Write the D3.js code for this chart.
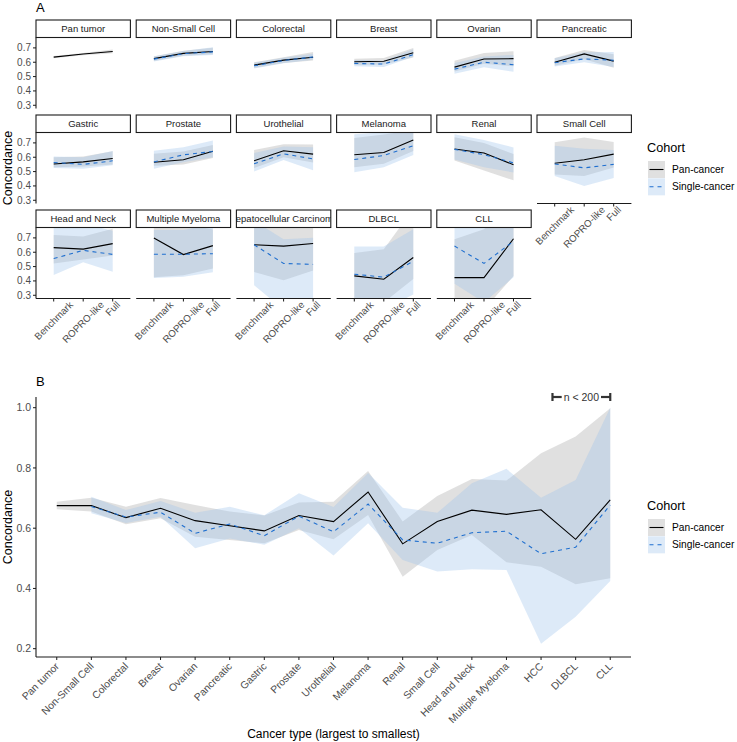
<!DOCTYPE html>
<html>
<head>
<meta charset="utf-8">
<script src="https://cdn.jsdelivr.net/npm/d3@7"></script>
<style>
body { margin: 0; background: #fff; }
svg { display: block; font-family: 'Liberation Sans', Arial, sans-serif; }
</style>
</head>
<body>
<div id="main"></div>
<script>
// cancer types, largest to smallest
var cancer_types = ['Pan tumor', 'Non-Small Cell', 'Colorectal', 'Breast', 'Ovarian', 'Pancreatic',
  'Gastric', 'Prostate', 'Urothelial', 'Melanoma', 'Renal', 'Small Cell',
  'Head and Neck', 'Multiple Myeloma', 'HCC', 'DLBCL', 'CLL']
var facet_titles = ['Pan tumor', 'Non-Small Cell', 'Colorectal', 'Breast', 'Ovarian', 'Pancreatic',
  'Gastric', 'Prostate', 'Urothelial', 'Melanoma', 'Renal', 'Small Cell',
  'Head and Neck', 'Multiple Myeloma', 'Hepatocellular Carcinoma', 'DLBCL', 'CLL']
var models = ['Benchmark', 'ROPRO-like', 'Full']
var cohorts = ['Pan-cancer', 'Single-cancer']

// concordance per cancer type, [Benchmark, ROPRO-like, Full]
var pan_mean = [
  [0.636, 0.657, 0.675], [0.625, 0.662, 0.675], [0.580, 0.615, 0.635], [0.603, 0.607, 0.666],
  [0.566, 0.623, 0.625], [0.600, 0.658, 0.608], [0.553, 0.568, 0.591], [0.565, 0.582, 0.642],
  [0.575, 0.645, 0.622], [0.617, 0.633, 0.720], [0.658, 0.630, 0.548], [0.558, 0.582, 0.622],
  [0.632, 0.622, 0.660], [0.700, 0.584, 0.646], [0.652, 0.643, 0.661], [0.435, 0.412, 0.563],
  [0.423, 0.423, 0.694]]
var pan_lo = [
  [0.628, 0.649, 0.663], [0.608, 0.645, 0.655], [0.560, 0.595, 0.613], [0.580, 0.585, 0.633],
  [0.535, 0.590, 0.572], [0.575, 0.620, 0.561], [0.530, 0.535, 0.550], [0.540, 0.550, 0.594],
  [0.525, 0.600, 0.563], [0.530, 0.554, 0.644], [0.577, 0.508, 0.439], [0.480, 0.470, 0.528],
  [0.522, 0.550, 0.577], [0.425, 0.440, 0.487], [0.462, 0.405, 0.472], [0.250, 0.250, 0.414],
  [0.200, 0.200, 0.434]]
var pan_hi = [
  [0.644, 0.665, 0.688], [0.642, 0.680, 0.701], [0.600, 0.635, 0.671], [0.625, 0.630, 0.700],
  [0.610, 0.665, 0.677], [0.630, 0.685, 0.655], [0.600, 0.605, 0.642], [0.625, 0.640, 0.685],
  [0.650, 0.690, 0.688], [0.735, 0.758, 0.790], [0.740, 0.700, 0.622], [0.704, 0.738, 0.707],
  [0.720, 0.710, 0.763], [0.820, 0.800, 0.758], [0.850, 0.850, 0.849], [0.595, 0.620, 0.904],
  [0.690, 0.760, 0.998]]
var single_mean = [
  [null, null, null], [0.622, 0.660, 0.672], [0.575, 0.612, 0.637], [0.592, 0.587, 0.653],
  [0.552, 0.600, 0.583], [0.597, 0.623, 0.614], [0.563, 0.550, 0.575], [0.567, 0.617, 0.640],
  [0.554, 0.624, 0.588], [0.584, 0.612, 0.680], [0.655, 0.618, 0.561], [0.553, 0.526, 0.550],
  [0.556, 0.613, 0.585], [0.586, 0.586, 0.590], [0.652, 0.522, 0.515], [0.447, 0.426, 0.537],
  [0.643, 0.522, 0.677]]
var single_lo = [
  [null, null, null], [0.605, 0.642, 0.650], [0.557, 0.593, 0.617], [0.572, 0.567, 0.638],
  [0.520, 0.565, 0.533], [0.570, 0.600, 0.566], [0.525, 0.520, 0.545], [0.520, 0.565, 0.600],
  [0.500, 0.580, 0.509], [0.496, 0.530, 0.616], [0.585, 0.530, 0.494], [0.470, 0.400, 0.456],
  [0.442, 0.530, 0.464], [0.420, 0.430, 0.461], [0.370, 0.200, 0.216], [0.250, 0.200, 0.306],
  [0.380, 0.250, 0.425]]
var single_hi = [
  [null, null, null], [0.640, 0.678, 0.704], [0.597, 0.632, 0.660], [0.615, 0.610, 0.690],
  [0.595, 0.640, 0.651], [0.628, 0.670, 0.671], [0.605, 0.600, 0.643], [0.645, 0.670, 0.716],
  [0.630, 0.675, 0.670], [0.760, 0.775, 0.783], [0.760, 0.720, 0.668], [0.680, 0.660, 0.651],
  [0.780, 0.800, 0.749], [0.755, 0.755, 0.797], [0.820, 0.690, 0.701], [0.640, 0.640, 0.760],
  [0.850, 0.850, 1.000]]

var y_ticks_a = [0.3, 0.4, 0.5, 0.6, 0.7]
var y_ticks_b = [0.2, 0.4, 0.6, 0.8, 1.0]
var small_n_label = 'n < 200'
var small_n_span = [14.33, 16] // in category positions

var W = 737
var H = 742
var pan_line = '#000000'
var single_line = '#1f6fcf'
var pan_fill = '#999999'
var single_fill = '#9ec3eb'
var pan_op = 0.3
var single_op = 0.35
var tick_col = '#4d4d4d'
var axis_col = '#1a1a1a'

var svg = d3.select('div#main').append('svg')
  .attr('width', W)
  .attr('height', H)

function seriesRows (i, xs, keys, col) {
  // one row per x position, col picks the model column (or null for all)
  return keys.map(function (k, j) {
    var ii = col === null ? i : j
    var jj = col === null ? j : col
    return {
      x: xs(k),
      pm: pan_mean[ii][jj], pl: pan_lo[ii][jj], ph: pan_hi[ii][jj],
      sm: single_mean[ii][jj], sl: single_lo[ii][jj], sh: single_hi[ii][jj]
    }
  })
}

function drawSeries (g, rows, ys) {
  var area_pan = d3.area().defined(function (d) { return d.pl !== null })
    .x(function (d) { return d.x }).y0(function (d) { return ys(d.pl) }).y1(function (d) { return ys(d.ph) })
  var area_single = d3.area().defined(function (d) { return d.sl !== null })
    .x(function (d) { return d.x }).y0(function (d) { return ys(d.sl) }).y1(function (d) { return ys(d.sh) })
  var line_pan = d3.line().defined(function (d) { return d.pm !== null })
    .x(function (d) { return d.x }).y(function (d) { return ys(d.pm) })
  var line_single = d3.line().defined(function (d) { return d.sm !== null })
    .x(function (d) { return d.x }).y(function (d) { return ys(d.sm) })

  g.append('path').attr('d', area_pan(rows)).attr('fill', pan_fill).attr('fill-opacity', pan_op)
  g.append('path').attr('d', area_single(rows)).attr('fill', single_fill).attr('fill-opacity', single_op)
  g.append('path').attr('d', line_pan(rows)).attr('fill', 'none')
    .attr('stroke', pan_line).attr('stroke-width', 1.1)
  g.append('path').attr('d', line_single(rows)).attr('fill', 'none')
    .attr('stroke', single_line).attr('stroke-width', 1.1).attr('stroke-dasharray', '4,4')
}

function yAxis (g, ys, ticks, top, bottom, fs) {
  g.append('line').attr('x1', 0).attr('x2', 0).attr('y1', top).attr('y2', bottom)
    .attr('stroke', axis_col).attr('stroke-width', 1.1)
  ticks.forEach(function (t) {
    g.append('line').attr('x1', -3).attr('x2', 0).attr('y1', ys(t)).attr('y2', ys(t))
      .attr('stroke', axis_col).attr('stroke-width', 1)
    g.append('text').text(t.toFixed(1))
      .attr('x', -5).attr('y', ys(t)).attr('dy', '0.35em')
      .attr('text-anchor', 'end').style('font-size', fs + 'px').attr('fill', tick_col)
  })
}

// ---------- panel A
var a_left = 36
var a_col_step = 100.2
var a_panel_w = 94.4
var a_strip_tops = [20, 115, 210]
var a_strip_h = 17.5
var a_panel_h = 71

var x_a = d3.scalePoint().domain(models).range([0, a_panel_w]).padding(0.6)
var y_a = d3.scaleLinear().domain([0.2775, 0.7725]).range([a_panel_h, 0])

svg.append('text').text('A').attr('x', 36).attr('y', 12)
  .style('font-size', '13px').attr('fill', '#000')

cancer_types.forEach(function (ct, i) {
  var row = Math.floor(i / 6)
  var col = i % 6
  var px = a_left + col * a_col_step
  var st = a_strip_tops[row]
  var py = st + a_strip_h

  var g = svg.append('g').attr('transform', 'translate(' + px + ',' + py + ')')
  var cid = 'clipA' + i
  g.append('clipPath').attr('id', cid).append('rect')
    .attr('width', a_panel_w).attr('height', a_panel_h)
  var pg = g.append('g').attr('clip-path', 'url(#' + cid + ')')
  drawSeries(pg, seriesRows(i, x_a, models, null), y_a)

  // strip
  var sg = svg.append('g').attr('transform', 'translate(' + px + ',' + st + ')')
  var sid = 'clipS' + i
  sg.append('clipPath').attr('id', sid).append('rect')
    .attr('width', a_panel_w).attr('height', a_strip_h)
  sg.append('rect').attr('width', a_panel_w).attr('height', a_strip_h)
    .attr('fill', '#fff').attr('stroke', axis_col).attr('stroke-width', 1.1)
  sg.append('text').text(facet_titles[i])
    .attr('clip-path', 'url(#' + sid + ')')
    .attr('x', a_panel_w / 2).attr('y', a_strip_h / 2).attr('dy', '0.35em')
    .attr('text-anchor', 'middle').style('font-size', '9.5px').attr('fill', '#1a1a1a')

  if (col === 0) {
    yAxis(g, y_a, y_ticks_a, 0, a_panel_h, 10)
  }
  // x axis where no facet sits below
  if (i + 6 >= cancer_types.length) {
    g.append('line').attr('x1', 0).attr('x2', a_panel_w).attr('y1', a_panel_h).attr('y2', a_panel_h)
      .attr('stroke', axis_col).attr('stroke-width', 1.1)
    models.forEach(function (m) {
      g.append('line').attr('x1', x_a(m)).attr('x2', x_a(m))
        .attr('y1', a_panel_h).attr('y2', a_panel_h + 3)
        .attr('stroke', axis_col).attr('stroke-width', 1)
      var t = g.append('text').text(m)
        .attr('text-anchor', 'middle').attr('dy', '0.35em')
        .style('font-size', '9.8px').attr('fill', tick_col)
      var L = t.node().getComputedTextLength()
      var cy = a_panel_h + 2 + 0.707 * (L + 7) / 2
      t.attr('transform', 'translate(' + x_a(m) + ',' + cy + ') rotate(-45)')
    })
  }
})

svg.append('text').text('Concordance')
  .attr('transform', 'translate(12,168) rotate(-90)')
  .attr('text-anchor', 'middle').style('font-size', '12.5px').attr('fill', '#000')

// ---------- panel B
var b_left = 36
var b_right = 631
var b_top = 397
var b_bottom = 657

var x_b = d3.scalePoint().domain(cancer_types).range([b_left, b_right]).padding(0.6)
var y_b = d3.scaleLinear().domain([0.1724, 1.0355]).range([b_bottom, b_top])
var idx_b = d3.scaleLinear().domain([0, cancer_types.length - 1])
  .range([x_b(cancer_types[0]), x_b(cancer_types[cancer_types.length - 1])])

svg.append('text').text('B').attr('x', 36).attr('y', 386)
  .style('font-size', '13px').attr('fill', '#000')

var gb = svg.append('g')
gb.append('clipPath').attr('id', 'clipB').append('rect')
  .attr('x', b_left).attr('y', b_top).attr('width', b_right - b_left).attr('height', b_bottom - b_top)
drawSeries(gb.append('g').attr('clip-path', 'url(#clipB)'), seriesRows(null, x_b, cancer_types, 2), y_b)

var gy = svg.append('g').attr('transform', 'translate(' + b_left + ',0)')
yAxis(gy, y_b, y_ticks_b, b_top, b_bottom, 10.5)

gb.append('line').attr('x1', b_left).attr('x2', b_right).attr('y1', b_bottom).attr('y2', b_bottom)
  .attr('stroke', axis_col).attr('stroke-width', 1.1)
cancer_types.forEach(function (ct) {
  gb.append('line').attr('x1', x_b(ct)).attr('x2', x_b(ct))
    .attr('y1', b_bottom).attr('y2', b_bottom + 3)
    .attr('stroke', axis_col).attr('stroke-width', 1)
  gb.append('text').text(ct)
    .attr('transform', 'translate(' + (x_b(ct) + 3) + ',' + (b_bottom + 10) + ') rotate(-45)')
    .attr('text-anchor', 'end').style('font-size', '10.3px').attr('fill', tick_col)
})

svg.append('text').text('Concordance')
  .attr('transform', 'translate(12,' + ((b_top + b_bottom) / 2) + ') rotate(-90)')
  .attr('text-anchor', 'middle').style('font-size', '12.5px').attr('fill', '#000')
svg.append('text').text('Cancer type (largest to smallest)')
  .attr('x', (b_left + b_right) / 2).attr('y', 738)
  .attr('text-anchor', 'middle').style('font-size', '12px').attr('fill', '#000')

// n < 200 bracket
var nx0 = idx_b(small_n_span[0])
var nx1 = idx_b(small_n_span[1])
var ny = 397
var nmid = (nx0 + nx1) / 2
var nt = svg.append('text').text(small_n_label)
  .attr('x', nmid).attr('y', ny).attr('dy', '0.35em')
  .attr('text-anchor', 'middle').style('font-size', '10.5px').attr('fill', '#333')
var nw = nt.node().getComputedTextLength()
var nb = svg.append('g').attr('stroke', '#333').attr('stroke-width', 2.2)
nb.append('line').attr('x1', nx0).attr('x2', nmid - nw / 2 - 2).attr('y1', ny).attr('y2', ny)
nb.append('line').attr('x1', nmid + nw / 2 + 2).attr('x2', nx1).attr('y1', ny).attr('y2', ny)
nb.append('line').attr('x1', nx0).attr('x2', nx0).attr('y1', ny - 4).attr('y2', ny + 4)
nb.append('line').attr('x1', nx1).attr('x2', nx1).attr('y1', ny - 4).attr('y2', ny + 4)

// ---------- legends
function legend (x, y_title) {
  var g = svg.append('g').attr('transform', 'translate(' + x + ',' + y_title + ')')
  g.append('text').text('Cohort').attr('x', 0).attr('y', 0)
    .style('font-size', '12.7px').attr('fill', '#000')
  cohorts.forEach(function (c, k) {
    var ky = 9 + k * 17.3
    g.append('rect').attr('x', 1).attr('y', ky).attr('width', 17).attr('height', 17)
      .attr('fill', k === 0 ? pan_fill : single_fill)
      .attr('fill-opacity', k === 0 ? pan_op : single_op)
    g.append('line').attr('x1', 2.5).attr('x2', 16.5).attr('y1', ky + 8.5).attr('y2', ky + 8.5)
      .attr('stroke', k === 0 ? pan_line : single_line).attr('stroke-width', 1.1)
      .attr('stroke-dasharray', k === 0 ? null : '4,4')
    g.append('text').text(c).attr('x', 25).attr('y', ky + 8.5).attr('dy', '0.35em')
      .style('font-size', '10.2px').attr('fill', '#000')
  })
}
legend(647, 152)
legend(647, 510)
</script>
</body>
</html>
